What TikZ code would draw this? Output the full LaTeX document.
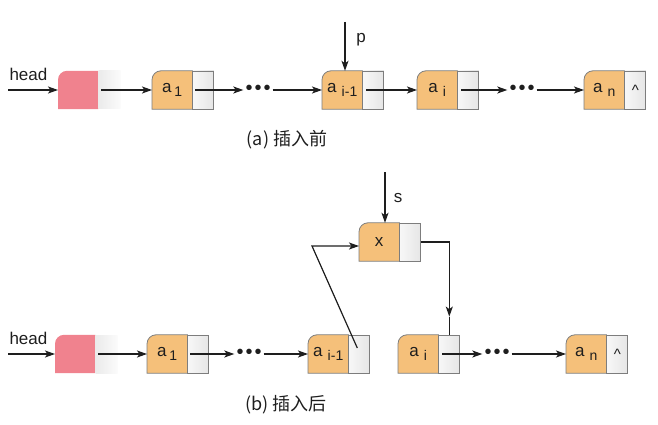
\documentclass[tikz,border=0pt]{standalone}
\usepackage{fontspec}
\setmainfont{Liberation Sans}
\newfontfamily\cjk{Noto Sans CJK SC}
\usetikzlibrary{arrows.meta,backgrounds}
\definecolor{dataorange}{RGB}{245,192,122}
\definecolor{headpink}{RGB}{240,130,142}
\definecolor{edgegray}{RGB}{125,125,125}
\definecolor{inkblack}{RGB}{30,30,30}

\tikzset{
  datapart/.style={minimum width=40pt, minimum height=38pt, inner sep=0pt, anchor=west,
    text=inkblack, font=\fontsize{17}{17}\selectfont},
  ptrpart/.style={minimum width=21pt, minimum height=38pt, inner sep=0pt, anchor=west,
    left color=gray!6, right color=gray!20, draw=edgegray, line width=0.8pt,
    text=inkblack, font=\fontsize{15}{15}\selectfont},
  headptr/.style={minimum width=22pt, minimum height=38pt, inner sep=0pt, anchor=west,
    left color=gray!16, right color=gray!3},
  ptr/.style={-{Stealth[length=10pt,width=7pt,inset=2.5pt]}, line width=1.2pt, draw=inkblack},
  link/.style={line width=1.2pt, draw=inkblack},
  dots/.style={inner sep=2pt, text=inkblack, font=\fontsize{20}{20}\selectfont},
  label/.style={text=inkblack, font=\fontsize{17}{17}\selectfont},
  caption/.style={text=inkblack, font=\cjk\fontsize{18}{18}\selectfont}
}

% one list element: name, west point, data, pointer text
\newcommand{\listnode}[4]{%
  \node[datapart] (#1) at (#2) {#3};
  \node[ptrpart] (#1p) at (#1.east) {#4};
  \begin{scope}[on background layer]
    \filldraw[fill=dataorange, draw=edgegray, line width=0.8pt]
      (#1.south west) -- ([yshift=-9pt]#1.north west) arc (180:90:9pt)
      -- (#1.north east) -- (#1.south east) -- cycle;
  \end{scope}
}
% head element: name, west point
\newcommand{\headnode}[2]{%
  \node[datapart] (#1) at (#2) {};
  \node[headptr] (#1p) at (#1.east) {};
  \begin{scope}[on background layer]
    \fill[headpink]
      (#1.south west) -- ([yshift=-9pt]#1.north west) arc (180:90:9pt)
      -- (#1.north east) -- (#1.south east) -- cycle;
  \end{scope}
}
\newcommand{\idx}[1]{\,{\fontsize{14}{14}\selectfont\raisebox{-3.5pt}{#1}}}
\newcommand{\threedots}{\textbullet\hspace{2pt}\textbullet\hspace{2pt}\textbullet}

\begin{document}
\begin{tikzpicture}[x=1pt,y=-1pt]
\useasboundingbox (0,0) rectangle (658,425);

% (a) before insertion
\headnode{ha}{58,90}
\listnode{a1}{152,90}{a\idx{1}}{}
\listnode{aim}{322,90}{a\idx{\,i-1}}{}
\listnode{ai}{417,90}{a\idx{\,i}}{}
\listnode{an}{584,90}{a\idx{\,n}}{\textasciicircum}
\node[dots] (da1) at (258,90) {\threedots};
\node[dots] (da2) at (522,90) {\threedots};

\coordinate (headA) at (8,90);
\node[label, anchor=south west] at (6,84) {head};
\draw[ptr] (headA) -- (ha.west);
\draw[ptr] ([xshift=3pt]hap.west) -- (a1.west);
\draw[ptr] ([xshift=3pt]a1p.west) -- (da1.west);
\draw[ptr] (da1.east) -- (aim.west);
\draw[ptr] ([xshift=4pt]aimp.west) -- (ai.west);
\draw[ptr] ([xshift=4pt]aip.west) -- (da2.west);
\draw[ptr] (da2.east) -- (an.west);

\coordinate (pA) at (345,22);
\draw[ptr] (pA) -- (pA |- aim.north);
\node[label] at (361,40) {p};

\node[caption] (capa) at (287,140) {(a) 插入前};

% (b) after insertion
\headnode{hb}{55,354}
\listnode{b1}{147,354}{a\idx{1}}{}
\listnode{bim}{308,354}{a\idx{\,i-1}}{}
\listnode{x}{359,242}{x}{}
\listnode{bi}{398,354}{a\idx{\,i}}{}
\listnode{bn}{566,354}{a\idx{\,n}}{\textasciicircum}
\node[dots] (db1) at (249,354) {\threedots};
\node[dots] (db2) at (497,354) {\threedots};

\coordinate (headB) at (8,354);
\node[label, anchor=south west] at (6,348) {head};
\draw[ptr] (headB) -- (hb.west);
\draw[ptr] ([xshift=3pt]hbp.west) -- (b1.west);
\draw[ptr] ([xshift=3pt]b1p.west) -- (db1.west);
\draw[ptr] (db1.east) -- (bim.west);

\coordinate (bend) at (312,246);
\draw[ptr] ([xshift=-2pt,yshift=6pt]bimp.center) -- (bend) -- (bend -| x.west);

\coordinate (sA) at (385,172);
\draw[ptr] (sA) -- (sA |- x.north);
\node[label] at (398,198) {s};

\coordinate (turn) at (bip.north |- xp.east);
\coordinate (tipx) at ([yshift=18pt]bip.north);
\draw[ptr] (xp.east) -- (turn) -- (tipx);
\draw[link] (tipx) -- (bip.north);

\draw[ptr] ([xshift=4pt]bip.west) -- (db2.west);
\draw[ptr] (db2.east) -- (bn.west);

\node[caption] (capb) at (286,405) {(b) 插入后};
\end{tikzpicture}
\end{document}
